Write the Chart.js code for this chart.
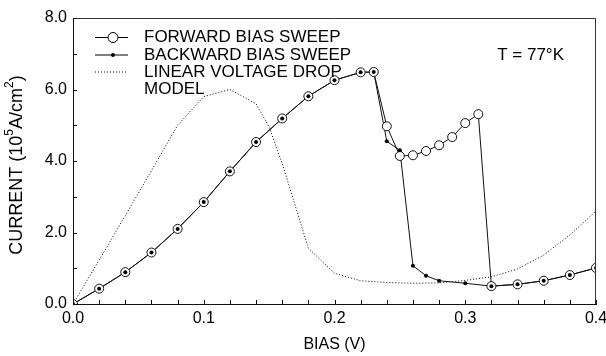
<!DOCTYPE html>
<html>
<head>
<meta charset="utf-8">
<script src="https://cdn.jsdelivr.net/npm/chart.js@4/dist/chart.umd.min.js"></script>
<style>
  body { margin: 0; background: #fff; }
  #wrap { width: 606px; height: 356px; }
</style>
</head>
<body>
<div id="wrap"><canvas id="iv" width="606" height="356"></canvas></div>
<script>
"use strict";
// bias values (V) and current density (10^5 A/cm^2)
let forwardBias = [0, 0.02, 0.04, 0.06, 0.08, 0.10, 0.12, 0.14, 0.16, 0.18, 0.20, 0.22, 0.23,
  0.24, 0.25, 0.26, 0.27, 0.28, 0.29, 0.30, 0.31, 0.32, 0.34, 0.36, 0.38, 0.40];
let forwardCurrent = [0, 0.43, 0.89, 1.44, 2.10, 2.85, 3.71, 4.53, 5.19, 5.81, 6.26, 6.48, 6.49,
  4.97, 4.14, 4.16, 4.28, 4.44, 4.67, 5.06, 5.31, 0.50, 0.55, 0.65, 0.81, 1.01];

let backwardBias = [0.40, 0.38, 0.36, 0.34, 0.32, 0.30, 0.28, 0.27, 0.26, 0.25, 0.24, 0.23,
  0.22, 0.20, 0.18, 0.16, 0.14, 0.12, 0.10, 0.08, 0.06, 0.04, 0.02, 0];
let backwardCurrent = [1.01, 0.81, 0.65, 0.55, 0.50, 0.58, 0.65, 0.79, 1.07, 4.30, 4.55, 6.49,
  6.48, 6.26, 5.81, 5.19, 4.53, 3.71, 2.85, 2.10, 1.44, 0.89, 0.43, 0];

let modelBias = [0, 0.02, 0.04, 0.06, 0.08, 0.10, 0.12, 0.14, 0.15, 0.16, 0.17, 0.18, 0.20,
  0.22, 0.24, 0.26, 0.28, 0.30, 0.32, 0.34, 0.36, 0.38, 0.40];
let modelCurrent = [0, 1.23, 2.47, 3.73, 5.0, 5.8, 6.0, 5.6, 4.95, 3.93, 2.75, 1.56, 0.86,
  0.65, 0.60, 0.58, 0.59, 0.66, 0.76, 0.98, 1.37, 1.93, 2.6];

let xTicks = [0, 0.1, 0.2, 0.3, 0.4];
let yTicks = [0, 2, 4, 6, 8];
let legendNames = ["FORWARD BIAS SWEEP", "BACKWARD BIAS SWEEP", "LINEAR VOLTAGE DROP", "MODEL"];

const FONT = "'Liberation Sans', Arial, Helvetica, sans-serif";

function toPoints(xs, ys) {
  let pts = [];
  for (let i = 0; i < xs.length; i++) {
    pts.push({ x: xs[i], y: ys[i] });
  }
  return pts;
}

// draws text pieces one after another, small raised ones for superscripts
function drawRich(ctx, parts, x, y) {
  for (let p of parts) {
    ctx.font = p.size + "px " + FONT;
    ctx.fillText(p.t, x, y + (p.rise || 0));
    x += ctx.measureText(p.t).width;
  }
}

// frame, inward ticks, legend, y title and temperature note
const decorPlugin = {
  id: "decor",
  afterDraw(chart) {
    let ctx = chart.ctx;
    let a = chart.chartArea;
    let xs = chart.scales.x;
    let ys = chart.scales.y;
    ctx.save();
    ctx.strokeStyle = "#333";
    ctx.lineWidth = 1;
    ctx.beginPath();
    ctx.moveTo(a.left, a.top + 0.5);
    ctx.lineTo(a.right - 0.5, a.top + 0.5);
    ctx.lineTo(a.right - 0.5, a.bottom);
    ctx.stroke();

    ctx.strokeStyle = "#111";
    ctx.beginPath();
    for (let v = 0; v <= 40; v += 2) {
      let px = Math.round(xs.getPixelForValue(v / 100)) + 0.5;
      ctx.moveTo(px, a.bottom);
      ctx.lineTo(px, a.bottom - 4);
    }
    for (let v = 0; v <= 8; v++) {
      let py = Math.round(ys.getPixelForValue(v)) + 0.5;
      ctx.moveTo(a.left, py);
      ctx.lineTo(a.left + 4, py);
    }
    ctx.stroke();

    // legend
    let lx0 = 95, lx1 = 128, tx = 144;
    let rows = [37.5, 55, 72, 89];
    ctx.fillStyle = "#000";
    ctx.font = "17px " + FONT;
    ctx.textBaseline = "middle";
    ctx.textAlign = "left";
    for (let i = 0; i < legendNames.length; i++) {
      ctx.fillText(legendNames[i], tx, rows[i]);
    }
    ctx.strokeStyle = "#000";
    ctx.beginPath();
    ctx.moveTo(lx0, rows[0]);
    ctx.lineTo(lx1, rows[0]);
    ctx.moveTo(lx0, rows[1]);
    ctx.lineTo(lx1, rows[1]);
    ctx.stroke();
    ctx.beginPath();
    ctx.arc(113, rows[0], 5, 0, Math.PI * 2);
    ctx.fillStyle = "#fff";
    ctx.fill();
    ctx.stroke();
    ctx.beginPath();
    ctx.arc(113, rows[1], 2, 0, Math.PI * 2);
    ctx.fillStyle = "#000";
    ctx.fill();
    ctx.setLineDash([1, 2]);
    ctx.strokeStyle = "#000";
    ctx.beginPath();
    ctx.moveTo(lx0, rows[2]);
    ctx.lineTo(lx1, rows[2]);
    ctx.stroke();
    ctx.setLineDash([]);

    ctx.fillStyle = "#000";
    ctx.textAlign = "right";
    ctx.font = "17px " + FONT;
    ctx.fillText("T = 77°K", 564, 55);

    // y axis title with real superscripts
    let title = [
      { t: "CURRENT (10", size: 18 },
      { t: "5", size: 12, rise: -7 },
      { t: "A/cm", size: 18 },
      { t: "2", size: 12, rise: -7 },
      { t: ")", size: 18 },
    ];
    let w = 0;
    for (let p of title) {
      ctx.font = p.size + "px " + FONT;
      w += ctx.measureText(p.t).width;
    }
    ctx.translate(17, 165);
    ctx.rotate(-Math.PI / 2);
    ctx.textAlign = "left";
    drawRich(ctx, title, -w / 2, 0);
    ctx.restore();
  }
};

let ctx = document.getElementById("iv").getContext("2d");

let ivChart = new Chart(ctx, {
  type: "scatter",
  data: {
    datasets: [
      {
        label: "Backward dots",
        data: toPoints(backwardBias, backwardCurrent),
        showLine: false,
        pointRadius: 2,
        pointBackgroundColor: "#000",
        pointBorderWidth: 0,
        order: 0,
      },
      {
        label: "Forward bias sweep",
        data: toPoints(forwardBias, forwardCurrent),
        showLine: true,
        borderColor: "#111",
        borderWidth: 1,
        pointRadius: 4.5,
        pointBackgroundColor: "#fff",
        pointBorderColor: "#111",
        pointBorderWidth: 1,
        order: 1,
      },
      {
        label: "Backward bias sweep",
        data: toPoints(backwardBias, backwardCurrent),
        showLine: true,
        borderColor: "#111",
        borderWidth: 1,
        pointRadius: 0,
        order: 2,
      },
      {
        label: "Linear voltage drop model",
        data: toPoints(modelBias, modelCurrent),
        showLine: true,
        borderColor: "#000",
        borderWidth: 1,
        borderDash: [1, 2],
        pointRadius: 0,
        order: 3,
      },
    ],
  },
  options: {
    responsive: false,
    animation: false,
    layout: { padding: { top: 18, right: 10, left: 0, bottom: 0 } },
    plugins: {
      legend: { display: false },
      tooltip: { enabled: false },
    },
    scales: {
      x: {
        type: "linear",
        min: 0,
        max: 0.4,
        afterFit(scale) {
          scale.height = 52;
          scale.paddingLeft = 0;
          scale.paddingRight = 0;
        },
        afterBuildTicks(scale) { scale.ticks = xTicks.map(v => ({ value: v })); },
        grid: { display: false, drawTicks: false },
        border: { display: true, color: "#111", width: 1 },
        ticks: {
          padding: 5,
          color: "#000",
          font: { family: FONT, size: 16 },
          maxRotation: 0,
          callback: v => v.toFixed(1),
        },
        title: {
          display: true,
          text: "BIAS (V)",
          color: "#000",
          font: { family: FONT, size: 16 },
          padding: { top: 0, bottom: 2 },
        },
      },
      y: {
        type: "linear",
        min: 0,
        max: 8,
        afterFit(scale) {
          scale.width = 73;
          scale.paddingTop = 0;
          scale.paddingBottom = 0;
        },
        afterBuildTicks(scale) { scale.ticks = yTicks.map(v => ({ value: v })); },
        grid: { display: false, drawTicks: false },
        border: { display: true, color: "#111", width: 1 },
        ticks: {
          padding: 6,
          color: "#000",
          font: { family: FONT, size: 16 },
          callback: v => v.toFixed(1),
        },
      },
    },
  },
  plugins: [decorPlugin],
});
</script>
</body>
</html>
